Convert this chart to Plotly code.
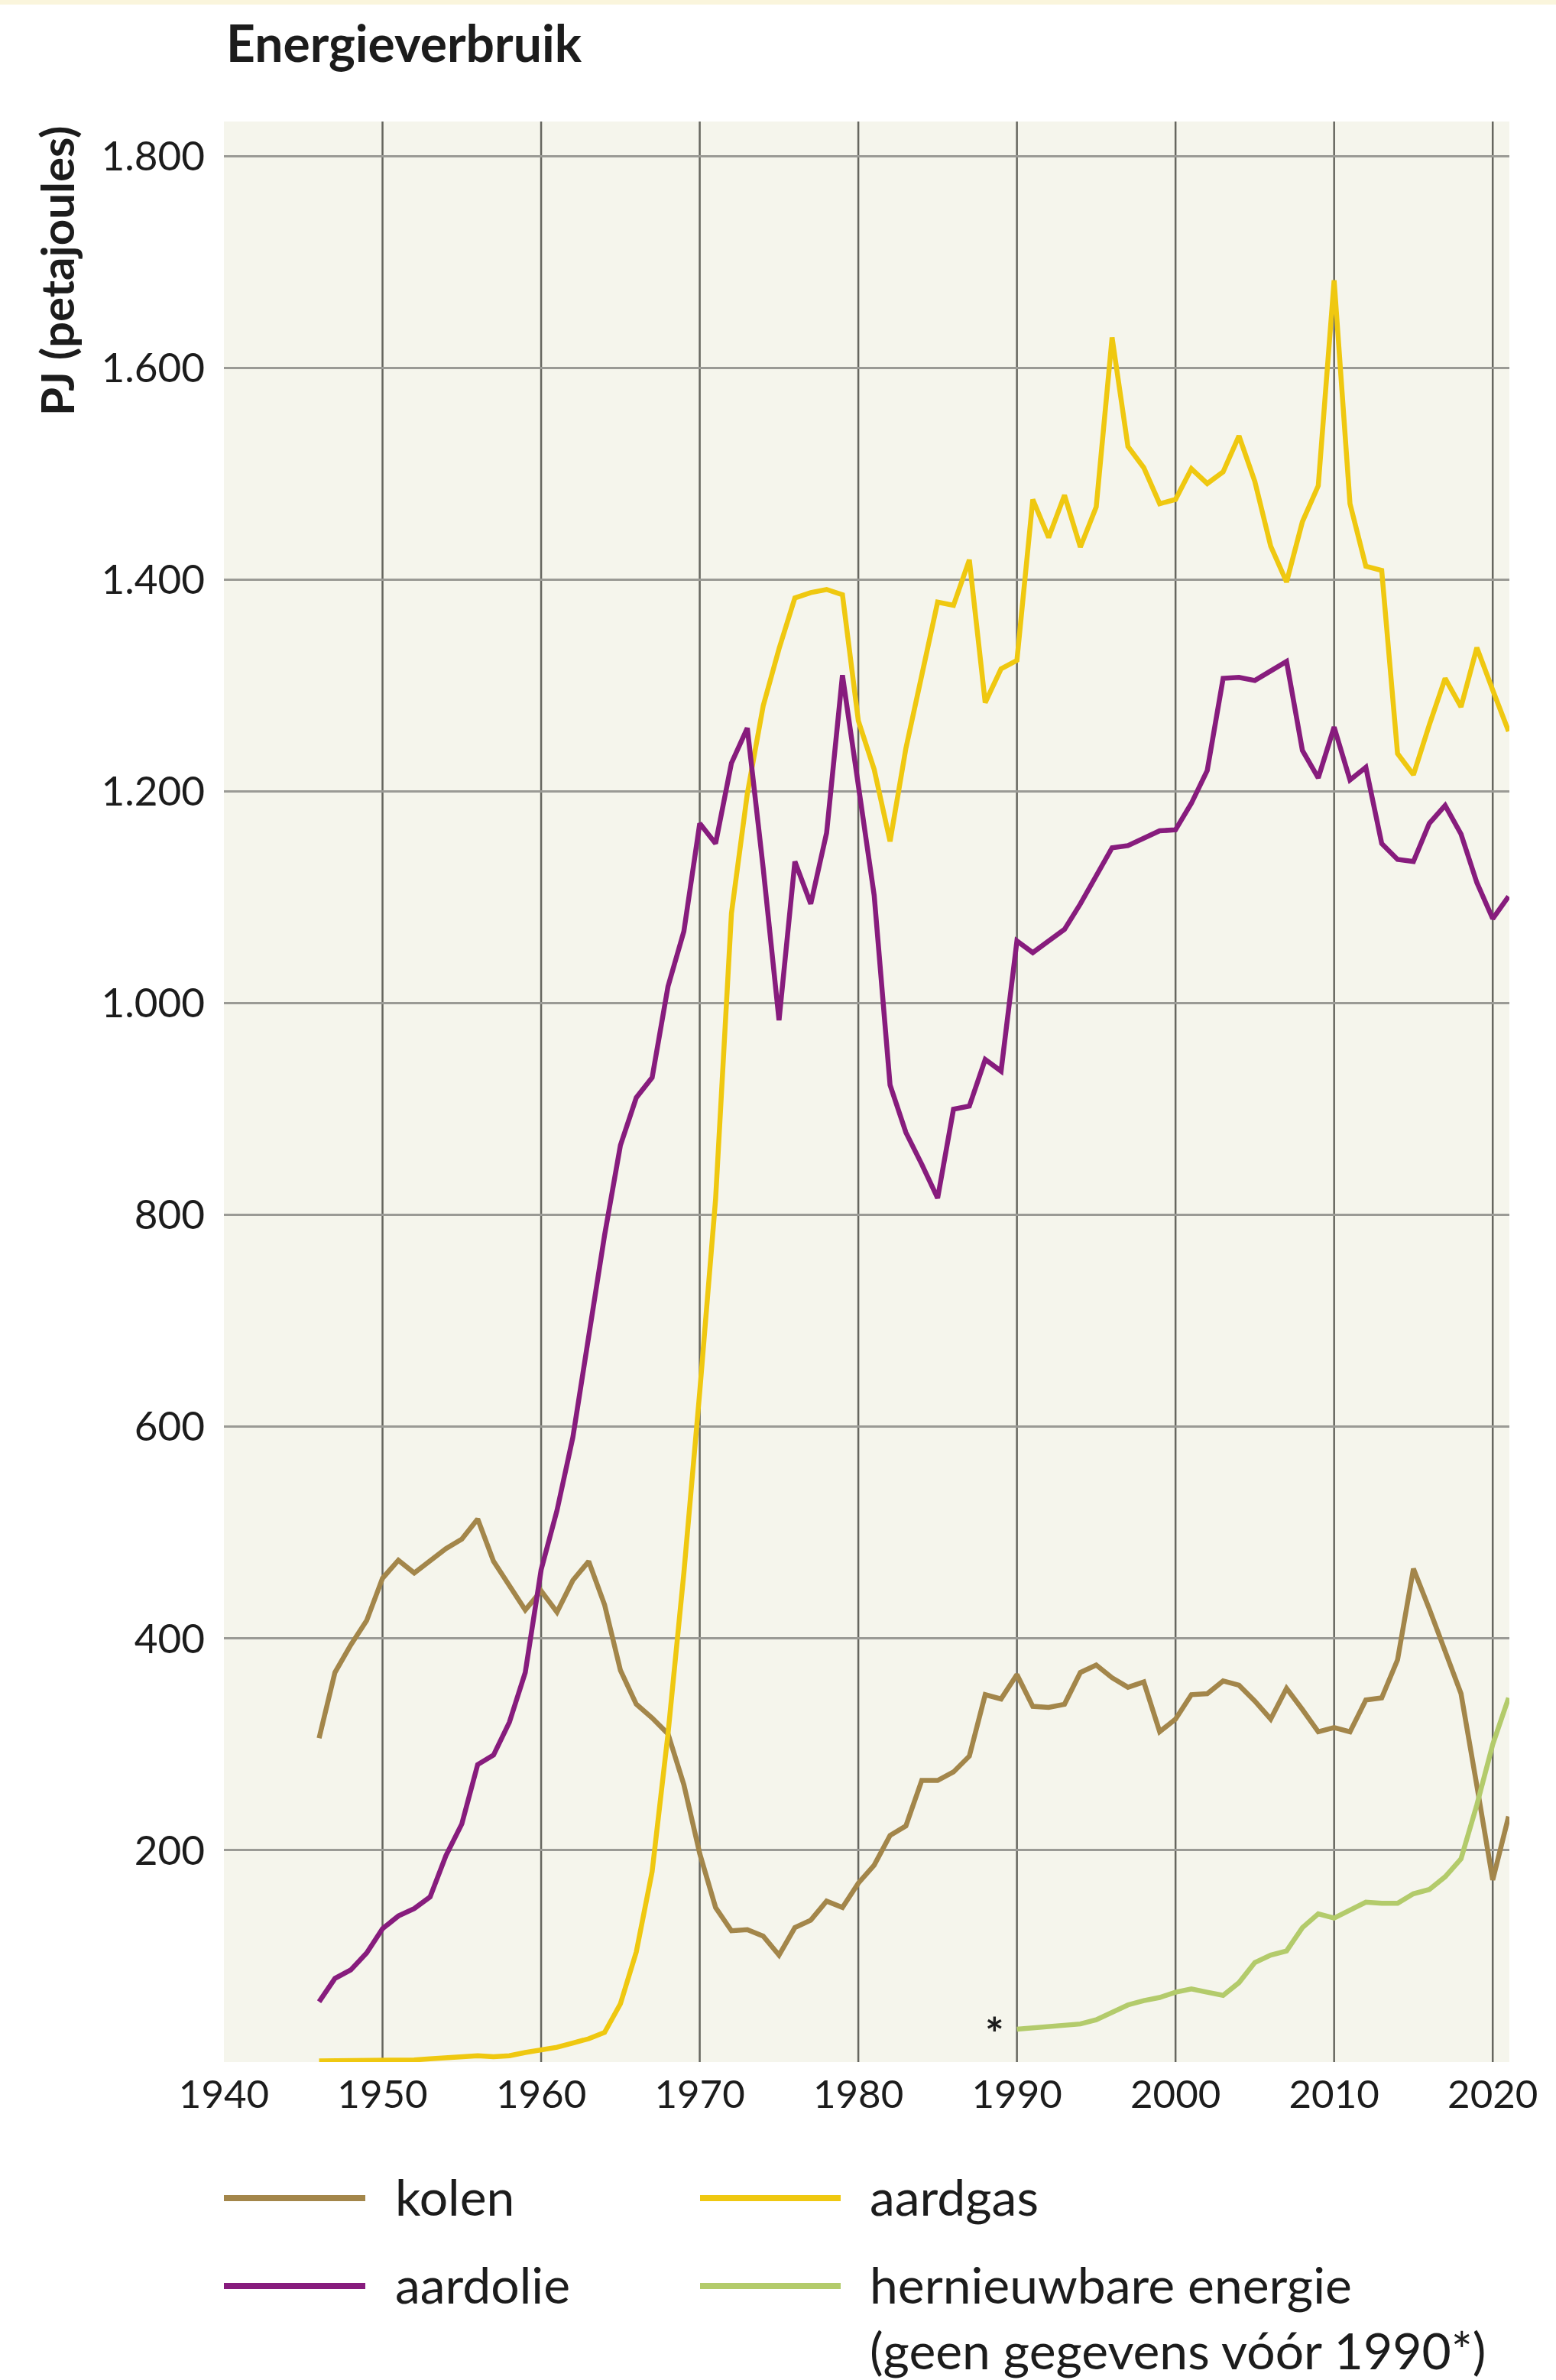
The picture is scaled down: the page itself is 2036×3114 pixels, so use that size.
import plotly.graph_objects as go

# ---------------- data (PJ) ----------------
years = list(range(1946, 2022))

kolen = [306, 368, 394, 417, 457, 474, 462, 473, 485, 494,
         513, 473, 450, 427, 445, 425, 455, 473, 432, 370,
         338, 325, 310, 262, 197, 146, 124, 125, 119, 101,
         127, 134, 152, 146, 169, 186, 214, 223, 266, 266,
         274, 289, 347, 343, 366, 336, 335, 338, 368, 375,
         363, 354, 359, 312, 324, 347, 348, 360, 356, 341,
         324, 353, 333, 312, 316, 312, 342, 344, 380, 466,
         428, 389, 348, 261, 172, 232]

aardolie = [57, 79, 87, 103, 126, 138, 145, 156, 195, 225,
            281, 290, 321, 368, 465, 521, 590, 684, 781, 866,
            911, 930, 1016, 1068, 1170, 1151, 1227, 1260, 1128, 984,
            1134, 1094, 1161, 1310, 1207, 1102, 923, 878, 848, 816,
            900, 903, 947, 936, 1059, 1048, 1059, 1070, 1094, 1120,
            1147, 1149, 1156, 1163, 1164, 1189, 1220, 1307, 1308, 1305,
            1314, 1323, 1239, 1213, 1261, 1211, 1223, 1151, 1136, 1134,
            1170, 1187, 1160, 1114, 1080, 1101]

aardgas = [1, 1, 1, 1, 1, 1, 2, 3, 4, 5,
           6, 5, 6, 9, 11, 14, 18, 22, 28, 55,
           104, 180, 310, 462, 633, 815, 1085, 1198, 1281, 1335,
           1383, 1388, 1391, 1386, 1267, 1221, 1153, 1241, 1310, 1379,
           1376, 1419, 1284, 1316, 1324, 1476, 1440, 1480, 1431, 1469,
           1629, 1526, 1506, 1472, 1476, 1505, 1491, 1502, 1536, 1493,
           1432, 1398, 1455, 1489, 1683, 1472, 1413, 1409, 1236, 1216,
           1263, 1307, 1280, 1336, 1296, 1257]

years_hernieuwbaar = list(range(1990, 2022))
hernieuwbaar = [31, 32, 34, 35, 36, 40, 47, 54, 58, 61,
                66, 69, 66, 63, 75, 94, 101, 105, 127, 140,
                136, 144, 151, 150, 150, 159, 163, 175, 192, 243,
                300, 344]

y_ticks = [200, 400, 600, 800, 1000, 1200, 1400, 1600, 1800]
x_ticks = [1940, 1950, 1960, 1970, 1980, 1990, 2000, 2010, 2020]
decade_lines = [1950, 1960, 1970, 1980, 1990, 2000, 2010, 2020]

series_names = ["kolen", "aardolie", "aardgas", "hernieuwbare energie"]
legend_labels = ["kolen", "aardolie", "aardgas",
                 "hernieuwbare energie<br>(geen gegevens vóór 1990*)"]

# ---------------- style ----------------
C_KOLEN = "#a3864a"
C_OLIE = "#871c7d"
C_GAS = "#efc810"
C_GROEN = "#b3cb6b"
FONT = "Lato"
TXT = "#1c1c1c"

W, H = 2036, 3114
ML, MR, MT, MB = 293, 61, 159, 416
PW = W - ML - MR
PH = H - MT - MB


def px_to_paper_x(px):
    return (px - ML) / PW


def px_to_paper_y(py):
    return (H - MB - py) / PH


fig = go.Figure()

traces = [
    (years, kolen, C_KOLEN, series_names[0]),
    (years, aardgas, C_GAS, series_names[2]),
    (years, aardolie, C_OLIE, series_names[1]),
    (years_hernieuwbaar, hernieuwbaar, C_GROEN, series_names[3]),
]
for xs, ys, col, name in traces:
    fig.add_trace(go.Scatter(
        x=xs, y=ys, mode="lines", name=name,
        line=dict(color=col, width=6.5),
        showlegend=False, hoverinfo="x+y+name"))

shapes = []
# vertical decade gridlines
for d in decade_lines:
    shapes.append(dict(type="line", xref="x", yref="paper",
                       x0=d, x1=d, y0=0, y1=1, layer="below",
                       line=dict(color="#66665f", width=2.5)))
# faint top band
shapes.append(dict(type="rect", xref="paper", yref="paper",
                   x0=px_to_paper_x(0), x1=px_to_paper_x(W),
                   y0=px_to_paper_y(0), y1=px_to_paper_y(6),
                   line=dict(width=0), fillcolor="#faf5dc", layer="below"))

# manual legend
leg_rows = [2876, 2991]
leg_cols = [(293, 478, 515), (916, 1100, 1136)]
leg_items = [
    (0, 0, C_KOLEN, legend_labels[0]),
    (1, 0, C_OLIE, legend_labels[1]),
    (0, 1, C_GAS, legend_labels[2]),
    (1, 1, C_GROEN, legend_labels[3]),
]
annotations = []
for r, c, col, label in leg_items:
    x0, x1, xt = leg_cols[c]
    yy = leg_rows[r]
    shapes.append(dict(type="line", xref="paper", yref="paper",
                       x0=px_to_paper_x(x0), x1=px_to_paper_x(x1),
                       y0=px_to_paper_y(yy), y1=px_to_paper_y(yy),
                       line=dict(color=col, width=8)))
    annotations.append(dict(
        xref="paper", yref="paper",
        x=px_to_paper_x(xt), y=px_to_paper_y(yy - 44),
        xanchor="left", yanchor="top", align="left",
        text=label, showarrow=False,
        font=dict(family=FONT, size=66, color=TXT)))

# title
annotations.append(dict(
    xref="paper", yref="paper", x=px_to_paper_x(294), y=px_to_paper_y(56),
    xanchor="left", yanchor="middle", showarrow=False,
    text="<b>Energieverbruik</b>",
    font=dict(family=FONT, size=66, color=TXT)))
# y axis title
annotations.append(dict(
    xref="paper", yref="paper", x=px_to_paper_x(74), y=px_to_paper_y(354),
    xanchor="center", yanchor="middle", showarrow=False, textangle=-90,
    text="<b>PJ (petajoules)</b>",
    font=dict(family=FONT, size=60, color=TXT)))
# asterisk
annotations.append(dict(
    xref="x", yref="y", x=1988.6, y=28, xanchor="center", yanchor="middle",
    showarrow=False, text="<b>*</b>",
    font=dict(family=FONT, size=58, color=TXT)))

fig.update_layout(
    width=W, height=H,
    margin=dict(l=ML, r=MR, t=MT, b=MB, pad=0),
    paper_bgcolor="white",
    plot_bgcolor="#f5f5ec",
    separators=",.",
    shapes=shapes,
    annotations=annotations,
    font=dict(family=FONT, color=TXT),
    xaxis=dict(range=[1940, 2021.05], tickvals=x_ticks,
               showgrid=False, zeroline=False, showline=False,
               ticks="", ticklabelstandoff=8,
               tickfont=dict(family=FONT, size=51, color=TXT)),
    yaxis=dict(range=[0, 1833], tickvals=y_ticks, tickformat=",d",
               showgrid=True, gridcolor="#9a9a95", gridwidth=3,
               zeroline=False, showline=False, ticks="",
               ticklabelstandoff=24,
               tickfont=dict(family=FONT, size=53, color=TXT)),
)

fig.write_html("out.html",
               config={"displayModeBar": False},
               post_script="document.body.style.margin='0';"
                           "document.body.style.overflow='hidden';")
